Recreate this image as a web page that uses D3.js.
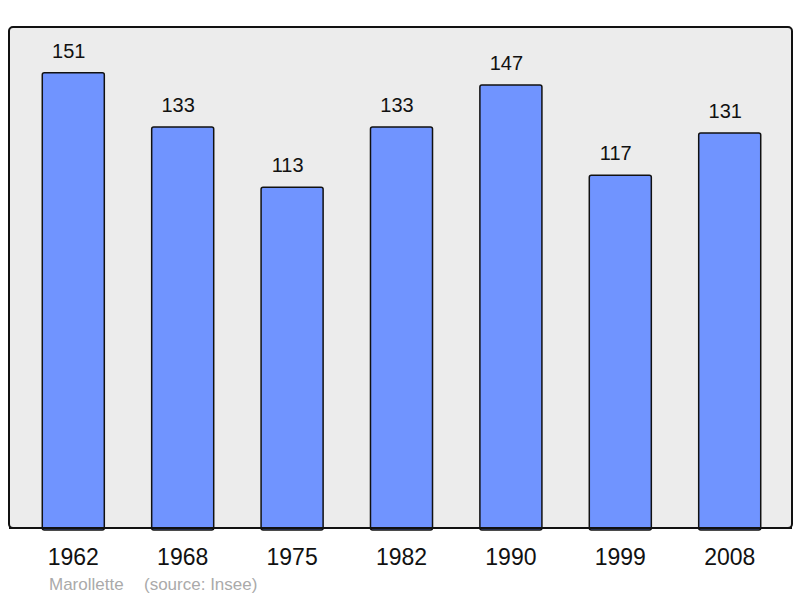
<!DOCTYPE html>
<html><head><meta charset="utf-8">
<script src="https://cdn.jsdelivr.net/npm/d3@7"></script>
<style>body{margin:0;background:#fff}svg{display:block}</style>
</head><body>
<script>
const years = ["1962","1968","1975","1982","1990","1999","2008"];
const population = [151,133,113,133,147,117,131];
const place = "Marollette";
const source = "(source: Insee)";

const W = 800, H = 598;
const svg = d3.select("body").append("svg").attr("width", W).attr("height", H);
const panel = {x0: 9, x1: 792, y0: 27, y1: 528};
const font = "Liberation Sans, Arial, sans-serif";

svg.append("rect").attr("x", panel.x0).attr("y", panel.y0)
  .attr("width", panel.x1 - panel.x0).attr("height", panel.y1 - panel.y0)
  .attr("rx", 4).attr("fill", "#ececec").attr("stroke", "#111").attr("stroke-width", 2);

const x = d3.scaleBand().domain(years).range([panel.x0 + 1, panel.x1 + 1])
  .paddingInner(0.433).paddingOuter(0.295);
const y = d3.scaleLinear().domain([0, 166.2]).range([panel.y1, panel.y0]);

const data = years.map((yr, i) => ({yr, v: population[i]}));

svg.selectAll("rect.bar").data(data).enter().append("rect").attr("class", "bar")
  .attr("x", d => x(d.yr)).attr("y", d => y(d.v))
  .attr("width", x.bandwidth()).attr("height", d => y(0) - y(d.v) + 2)
  .attr("rx", 2).attr("fill", "#7094ff").attr("stroke", "#111").attr("stroke-width", 1.5);

svg.append("line").attr("x1", panel.x0).attr("x2", panel.x1)
  .attr("y1", panel.y1).attr("y2", panel.y1).attr("stroke", "#111").attr("stroke-width", 2);

svg.selectAll("text.val").data(data).enter().append("text").attr("class", "val")
  .attr("x", d => x(d.yr) + x.bandwidth() / 2 - 4.5).attr("y", d => y(d.v) - 15)
  .attr("text-anchor", "middle").attr("font-family", font)
  .attr("font-size", 20).attr("fill", "#111").text(d => d.v);

const xAxis = d3.axisBottom(x).tickSize(0).tickPadding(0);
const gx = svg.append("g").attr("transform", `translate(0,${panel.y1})`).call(xAxis);
gx.select(".domain").remove();
gx.selectAll("text").attr("font-family", font)
  .attr("font-size", 23).attr("fill", "#111").attr("dy", null).attr("y", 37);

svg.append("text").attr("x", 49).attr("y", 590)
  .attr("font-family", font).attr("font-size", 17)
  .attr("fill", "#aaa").text(place);
svg.append("text").attr("x", 144).attr("y", 590)
  .attr("font-family", font).attr("font-size", 17)
  .attr("fill", "#aaa").text(source);
</script>
</body></html>
